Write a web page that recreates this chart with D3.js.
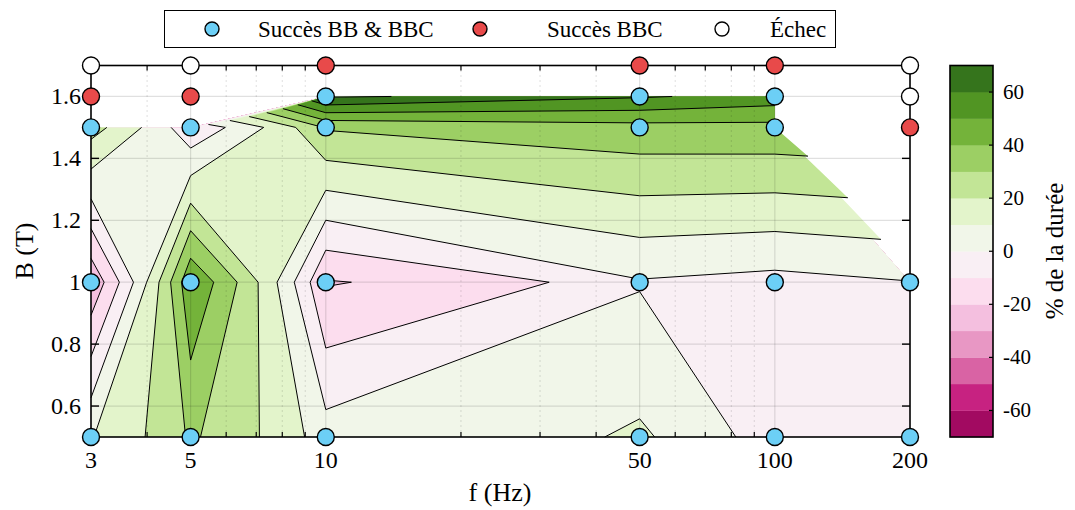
<!DOCTYPE html>
<html><head><meta charset="utf-8">
<script src="https://cdn.jsdelivr.net/npm/d3@7"></script>
<style>body{margin:0;background:#fff} text{font-family:"Liberation Serif","Times New Roman",serif;fill:#000}</style>
</head><body><svg id="c" width="1075" height="510"></svg>
<script>
// ---- data ----
const freqs = [3, 5, 10, 50, 100, 200];           // f (Hz) grid
const fields = [0.5, 1.0, 1.5, 1.6];              // B (T) grid
const zB05 = [9.5, 31.4, 4.45, 11.43, -6.5, -5];   // % de la durée at B=0.5
const zB10 = [-28, 48.7, -20.7, -0.74, -3.1, -0.3];
const zB15 = [24, -7.5, 31, 36.4, 36.9, null];
const zB16 = [null, null, 71, 61, 55.5, null];
const levels = d3.range(-70, 71, 10);
const xTicks = [3, 5, 10, 50, 100, 200];
const xMinor = [4, 6, 7, 8, 9, 20, 30, 40, 60, 70, 80, 90];
const yTicks = [0.6, 0.8, 1.0, 1.2, 1.4, 1.6];
const cbTicks = [-60, -40, -20, 0, 20, 40, 60];
const ptsBoth = [[3,0.5],[3,1],[3,1.5],[5,0.5],[5,1],[5,1.5],[10,0.5],[10,1],[10,1.5],[10,1.6],[50,0.5],[50,1],[50,1.5],[50,1.6],[100,0.5],[100,1],[100,1.5],[100,1.6],[200,0.5],[200,1]];
const ptsBBC = [[3,1.6],[5,1.6],[10,1.7],[50,1.7],[100,1.7],[200,1.5]];
const ptsFail = [[3,1.7],[5,1.7],[200,1.7],[200,1.6]];
const legendLabels = ["Succès BB & BBC", "Succès BBC", "Échec"];
const piyg = ["#8e0152","#c51b7d","#de77ae","#f1b6da","#fde0ef","#f7f7f7","#e6f5d0","#b8e186","#7fbc41","#4d9221","#276419"];

// ---- setup ----
const svg = d3.select("#c");
const x = d3.scaleLog().domain([3, 200]).range([91, 910]);
const y = d3.scaleLinear().domain([0.5, 1.7]).range([437, 65.5]);
const cmap = d3.piecewise(d3.interpolateRgb, piyg);
const bandColor = L => cmap((L + 5 + 70) / 140);

const Z = [zB05, zB10, zB15, zB16];
const cells = [];
for (let j = 0; j < fields.length - 1; j++) for (let i = 0; i < freqs.length - 1; i++) {
  const c = [[i,j],[i+1,j],[i+1,j+1],[i,j+1]].map(([a,b]) => ({f: freqs[a], B: fields[b], v: Z[b][a]}));
  const ok = c.filter(p => p.v !== null);
  if (ok.length >= 3) cells.push(ok);
}
function cross(a, b, L) { const t = (L - a.v) / (b.v - a.v); return {f: a.f + t*(b.f - a.f), B: a.B + t*(b.B - a.B), v: L}; }
function aboveRegion(poly, L) {
  const n = poly.length, up = poly.map(p => p.v >= L);
  if (n === 4 && up[0] === up[2] && up[1] === up[3] && up[0] !== up[1]) {
    const cen = d3.mean(poly, p => p.v);
    if (cen < L) {
      const res = [];
      for (let k = 0; k < 4; k++) if (up[k]) {
        const p = poly[(k+3)%4], q = poly[(k+1)%4];
        res.push([cross(p, poly[k], L), poly[k], cross(poly[k], q, L)]);
      }
      return res;
    }
  }
  const out = [];
  for (let k = 0; k < n; k++) {
    const a = poly[k], b = poly[(k+1)%n];
    if (up[k]) out.push(a);
    if (up[k] !== up[(k+1)%n]) out.push(cross(a, b, L));
  }
  return out.length >= 3 ? [out] : [];
}
function segments(poly, L) {
  const n = poly.length, up = poly.map(p => p.v >= L);
  const xe = {}; let cnt = 0;
  for (let k = 0; k < n; k++) if (up[k] !== up[(k+1)%n]) { xe[k] = cross(poly[k], poly[(k+1)%n], L); cnt++; }
  const ks = Object.keys(xe).map(Number);
  if (cnt === 2) return [[xe[ks[0]], xe[ks[1]]]];
  if (cnt === 4) {
    const cen = d3.mean(poly, p => p.v); const iso = cen < L;
    const res = [];
    for (let k = 0; k < 4; k++) if (up[k] === iso) res.push([xe[(k+3)%4], xe[k]]);
    return res;
  }
  return [];
}
const px = p => [x(p.f), y(p.B)];
const polyPath = polys => polys.map(pl => "M" + pl.map(p => px(p).join(",")).join("L") + "Z").join("");

// ---- filled bands (painter) ----
const gFill = svg.append("g");
levels.forEach((L, li) => {
  const polys = [];
  cells.forEach(c => aboveRegion(c, L).forEach(pl => polys.push(pl)));
  if (!polys.length) return;
  gFill.append("path").attr("d", polyPath(polys))
    .attr("fill", li < levels.length - 1 ? bandColor(L) : "#fff");
});
// ---- contour lines ----
const gLines = svg.append("g");
levels.forEach(L => {
  let d = "";
  cells.forEach(c => segments(c, L).forEach(s => { d += "M" + px(s[0]).join(",") + "L" + px(s[1]).join(","); }));
  if (d) gLines.append("path").attr("d", d).attr("fill", "none").attr("stroke", "#000").attr("stroke-width", 1);
});

// ---- grid ----
const gGrid = svg.append("g");
xTicks.slice(1, -1).forEach(t => gGrid.append("line").attr("x1", x(t)).attr("x2", x(t)).attr("y1", 65.5).attr("y2", 437)
  .attr("stroke", "#000").attr("stroke-opacity", 0.12).attr("stroke-width", 1.2));
yTicks.forEach(t => gGrid.append("line").attr("x1", 91).attr("x2", 910).attr("y1", y(t)).attr("y2", y(t))
  .attr("stroke", "#000").attr("stroke-opacity", 0.12).attr("stroke-width", 1.2));
xMinor.forEach(t => gGrid.append("line").attr("x1", x(t)).attr("x2", x(t)).attr("y1", 65.5).attr("y2", 437)
  .attr("stroke", "#000").attr("stroke-opacity", 0.25).attr("stroke-width", 1).attr("stroke-dasharray", "1,4"));

// ---- frame + ticks ----
const gAx = svg.append("g");
gAx.append("rect").attr("x", 91).attr("y", 65.5).attr("width", 819).attr("height", 371.5)
  .attr("fill", "none").attr("stroke", "#000").attr("stroke-width", 1.6);
const tk = (x1, y1, x2, y2, w) => gAx.append("line").attr("x1", x1).attr("y1", y1).attr("x2", x2).attr("y2", y2).attr("stroke", "#000").attr("stroke-width", w);
xTicks.forEach(t => { tk(x(t), 437, x(t), 429, 1.4); tk(x(t), 65.5, x(t), 73.5, 1.4); });
xMinor.forEach(t => { tk(x(t), 437, x(t), 432, 1.2); tk(x(t), 65.5, x(t), 70.5, 1.2); });
yTicks.forEach(t => { tk(91, y(t), 99, y(t), 1.4); tk(910, y(t), 902, y(t), 1.4); });
xTicks.forEach(t => gAx.append("text").attr("x", x(t)).attr("y", 468).attr("text-anchor", "middle").attr("font-size", 24).text(t));
yTicks.forEach(t => gAx.append("text").attr("x", 81).attr("y", y(t) + 7.5).attr("text-anchor", "end").attr("font-size", 24).text(t === 1 ? "1" : t.toFixed(1)));
svg.append("text").attr("x", 500).attr("y", 501).attr("text-anchor", "middle").attr("font-size", 26).text("f (Hz)");
svg.append("text").attr("transform", "translate(33,251) rotate(-90)").attr("text-anchor", "middle").attr("font-size", 26).text("B (T)");

// ---- markers ----
const gM = svg.append("g");
const mark = (pts, col) => gM.selectAll(null).data(pts).join("circle").attr("cx", d => x(d[0])).attr("cy", d => y(d[1])).attr("r", 8.5)
  .attr("fill", col).attr("stroke", "#000").attr("stroke-width", 1.4);
mark(ptsBoth, "#6ccff6"); mark(ptsBBC, "#e84a4a"); mark(ptsFail, "#fff");

// ---- colorbar ----
const cb = d3.scaleLinear().domain([-70, 70]).range([437, 65.5]);
const gCb = svg.append("g");
levels.slice(0, -1).forEach(L => gCb.append("rect").attr("x", 950).attr("width", 43).attr("y", cb(L + 10)).attr("height", cb(L) - cb(L + 10) + 0.3).attr("fill", bandColor(L)));
gCb.append("rect").attr("x", 950).attr("y", 65.5).attr("width", 43).attr("height", 371.5).attr("fill", "none").attr("stroke", "#000").attr("stroke-width", 1.6);
cbTicks.forEach(t => {
  gCb.append("line").attr("x1", 989).attr("x2", 993).attr("y1", cb(t)).attr("y2", cb(t)).attr("stroke", "#000").attr("stroke-width", 1.2);
  gCb.append("text").attr("x", 1003).attr("y", cb(t) + 7).attr("font-size", 21).text(t);
});
svg.append("text").attr("transform", "translate(1063,251) rotate(-90)").attr("text-anchor", "middle").attr("font-size", 25).text("% de la durée");

// ---- legend ----
const gL = svg.append("g");
gL.append("rect").attr("x", 164.5).attr("y", 10.5).attr("width", 671).attr("height", 37).attr("fill", "#fff").attr("stroke", "#000").attr("stroke-width", 1);
const legCols = ["#6ccff6", "#e84a4a", "#fff"], legCx = [212, 480, 722], legTx = [258, 547, 770];
legendLabels.forEach((s, i) => {
  gL.append("circle").attr("cx", legCx[i]).attr("cy", 29).attr("r", 7).attr("fill", legCols[i]).attr("stroke", "#000").attr("stroke-width", 1.4);
  gL.append("text").attr("x", legTx[i]).attr("y", 37).attr("font-size", 23).text(s);
});
</script></body></html>
